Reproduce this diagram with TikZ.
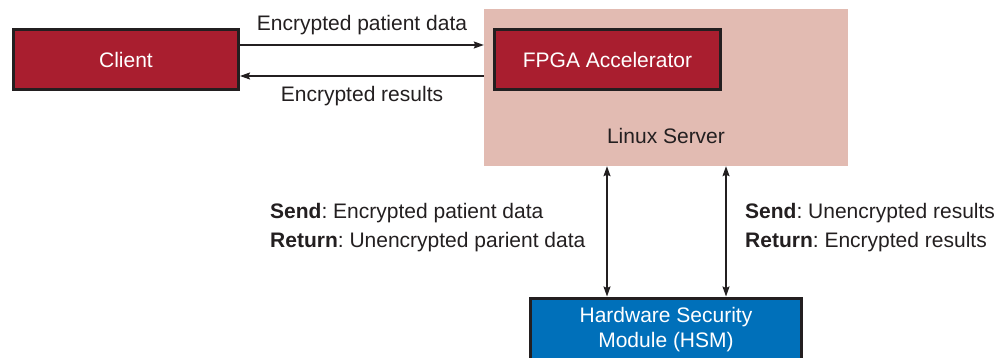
\documentclass[tikz,border=0pt]{standalone}
\usepackage{fontspec}
\setmainfont{Liberation Sans}
\usetikzlibrary{arrows.meta}
\frenchspacing
\definecolor{boxred}{RGB}{169,30,47}
\definecolor{serverpink}{RGB}{226,187,178}
\definecolor{hsmblue}{RGB}{0,112,186}
\definecolor{ink}{RGB}{35,31,32}
\tikzset{
  redbox/.style={draw=ink, line width=3pt, fill=boxred, text=white, inner sep=0pt,
    font=\fontsize{21}{25}\selectfont},
  bluebox/.style={draw=ink, line width=3pt, fill=hsmblue, text=white, inner sep=0pt,
    align=center, font=\fontsize{21}{25}\selectfont},
  lbl/.style={text=ink, inner sep=0pt, font=\fontsize{21}{29}\selectfont},
  conn/.style={draw=ink, line width=1.5pt, {Stealth[length=10pt,width=7pt,inset=1.5pt]}-{Stealth[length=10pt,width=7pt,inset=1.5pt]}},
  conn1/.style={draw=ink, line width=1.5pt, -{Stealth[length=10pt,width=7pt,inset=1.5pt]}}
}
\begin{document}
\begin{tikzpicture}[x=1pt,y=-1pt]
\useasboundingbox (0,0) rectangle (1000,358);
\node[fill=serverpink, minimum width=364pt, minimum height=157pt, inner sep=0pt] (server) at (666,87.5) {};
\node[lbl] (srvlbl) at (666,136) {Linux Server};
\node[redbox, minimum width=225pt, minimum height=60pt] (client) at (126,60) {Client};
\node[redbox, minimum width=226pt, minimum height=60pt] (fpga) at (607.5,60) {FPGA Accelerator};
\node[bluebox, minimum width=271pt, minimum height=64pt] (hsm) at (666,330) {Hardware Security\\Module (HSM)};
\draw[conn1] ([yshift=15pt]client.east) -- ([yshift=15pt]client.east -| server.west);
\draw[conn1] ([yshift=-16pt]client.east -| server.west) -- ([yshift=-16pt]client.east);
\node[lbl] (l1) at (362,25) {Encrypted patient data};
\node[lbl] (l2) at (362,96) {Encrypted results};
\coordinate (v1) at (607,0);
\coordinate (v2) at (726,0);
\draw[conn] (server.south -| v1) -- (hsm.north -| v1);
\draw[conn] (server.south -| v2) -- (hsm.north -| v2);
\node[lbl, anchor=west, align=left] (l3) at (270,227.5) {\textbf{Send}: Encrypted patient data\\\textbf{Return}: Unencrypted parient data};
\node[lbl, anchor=west, align=left] (l4) at (745,227.5) {\textbf{Send}: Unencrypted results\\\textbf{Return}: Encrypted results};
\end{tikzpicture}
\end{document}
